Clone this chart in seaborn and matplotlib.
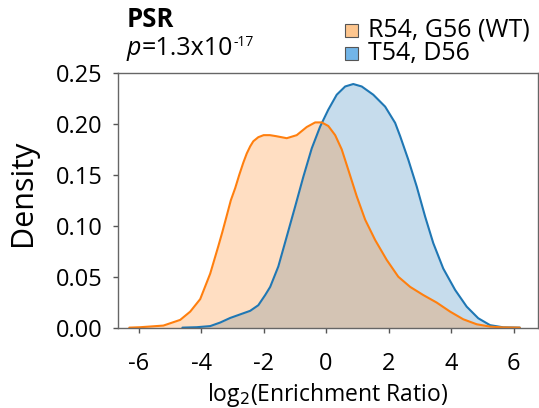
import numpy as np
import pandas as pd
import matplotlib
matplotlib.use("Agg")
import matplotlib.pyplot as plt
from matplotlib.patches import Rectangle
import seaborn as sns

# Kernel density estimates of log2 enrichment ratios for the two PSR variants
wt_x = [-6.3, -5.95, -5.21, -4.67, -4.35, -4.03, -3.71, -3.45, -3.32, -3.18, -3.05,
        -2.91, -2.78, -2.65, -2.54, -2.43, -2.33, -2.17, -2.0, -1.8, -1.6, -1.26, -0.94,
        -0.62, -0.35, -0.14, 0.07, 0.29, 0.5, 0.71, 0.98, 1.25, 1.57, 1.94, 2.31, 2.69,
        3.11, 3.54, 3.97, 4.39, 4.82, 5.25, 5.67, 6.2]
wt_d = [0.0, 0.0004, 0.002, 0.0076, 0.0157, 0.028, 0.053, 0.080, 0.094, 0.110, 0.125,
        0.137, 0.150, 0.162, 0.171, 0.178, 0.183, 0.187, 0.189, 0.189, 0.188, 0.186, 0.189,
        0.197, 0.2015, 0.2015, 0.198, 0.189, 0.175, 0.155, 0.129, 0.106, 0.086, 0.0665,
        0.050, 0.040, 0.032, 0.0246, 0.0157, 0.0082, 0.0033, 0.001, 0.0002, 0.0]

mut_x = [-4.6, -4.14, -3.71, -3.39, -3.07, -2.75, -2.43, -2.17, -1.95, -1.79, -1.53,
         -1.26, -0.99, -0.73, -0.46, -0.19, 0.07, 0.34, 0.61, 0.87, 1.14, 1.51, 1.89,
         2.21, 2.37, 2.63, 2.9, 3.17, 3.43, 3.75, 4.13, 4.5, 4.87, 5.25, 5.67, 6.2]
mut_d = [0.0, 0.0004, 0.0015, 0.005, 0.0095, 0.013, 0.0165, 0.022, 0.032, 0.040, 0.060,
         0.0894, 0.119, 0.148, 0.176, 0.1975, 0.214, 0.2287, 0.2368, 0.2392, 0.2368,
         0.2287, 0.217, 0.201, 0.188, 0.165, 0.1386, 0.109, 0.083, 0.058, 0.037, 0.0206,
         0.0092, 0.0024, 0.0003, 0.0]

labels = ["R54, G56 (WT)", "T54, D56"]
line_colors = ["#ff7f0e", "#1f77b4"]
patch_colors = ["#fec68e", "#72b5e8"]

xticks = [-6, -4, -2, 0, 2, 4, 6]
yticks = [0.00, 0.05, 0.10, 0.15, 0.20, 0.25]

sns.set_theme(style="white")
plt.rcParams["font.family"] = ["Open Sans", "DejaVu Sans"]
plt.rcParams["text.color"] = "black"

fig = plt.figure(figsize=(5.39, 4.08), dpi=100)
ax = fig.add_axes([0.219, 0.197, 0.779, 0.624])

wt = pd.DataFrame({"x": wt_x, "d": wt_d})
mut = pd.DataFrame({"x": mut_x, "d": mut_d})

# shaded areas: mutant first, wild type on top
ax.fill_between(mut["x"], mut["d"], color=line_colors[1], alpha=0.25, linewidth=0)
ax.fill_between(wt["x"], wt["d"], color=line_colors[0], alpha=0.25, linewidth=0)
sns.lineplot(data=mut, x="x", y="d", ax=ax, color=line_colors[1], linewidth=1.5, sort=False)
sns.lineplot(data=wt, x="x", y="d", ax=ax, color=line_colors[0], linewidth=1.5, sort=False)

ax.set_xlim(-6.66, 6.78)
ax.set_ylim(0, 0.25)
ax.set_xticks(xticks)
ax.set_xticklabels([str(t) for t in xticks], fontsize=17, color="black")
ax.set_yticks(yticks)
ax.set_yticklabels([f"{t:.2f}" for t in yticks], fontsize=17, color="black")
ax.tick_params(axis="both", which="both", direction="out", length=3.5, width=1,
               color="#555555", bottom=True, left=True)
ax.tick_params(axis="x", pad=14)
ax.tick_params(axis="y", pad=7.5)
for s in ax.spines.values():
    s.set_color("#666666")
    s.set_linewidth(1.0)

ax.set_xlabel(r"log$_2$(Enrichment Ratio)", fontsize=16.5, labelpad=4, color="black")
ax.set_ylabel("Density", fontsize=22, color="black")
ax.yaxis.set_label_coords(-0.19, 0.53)

# panel heading and test statistic
fig.text(0.235, 1 - 26.7 / 408, "PSR", fontsize=18.5, fontweight="bold", va="baseline")
t1 = fig.text(0.235, 1 - 55 / 408, "p", fontsize=18, style="italic", va="baseline")
t2 = ax.annotate("=1.3x10", xy=(1, 0), xycoords=t1, va="bottom", ha="left",
                 fontsize=18, annotation_clip=False)
ax.annotate("-17", xy=(1, 1), xycoords=t2, va="top", ha="left", fontsize=10,
            xytext=(0.5, 0.8), textcoords="offset points", annotation_clip=False)

# legend boxes with labels
box_w, box_h = 13 / 539, 13 / 408
for i, (lab, pc) in enumerate(zip(labels, patch_colors)):
    base = 36.7 + i * 23.3
    fig.add_artist(Rectangle((345 / 539, 1 - base / 408), box_w, box_h,
                             transform=fig.transFigure, facecolor=pc,
                             edgecolor="#555555", linewidth=0.8))
    fig.text(368 / 539, 1 - base / 408, lab, fontsize=18, va="baseline")

fig.savefig("out.png", dpi=100)
